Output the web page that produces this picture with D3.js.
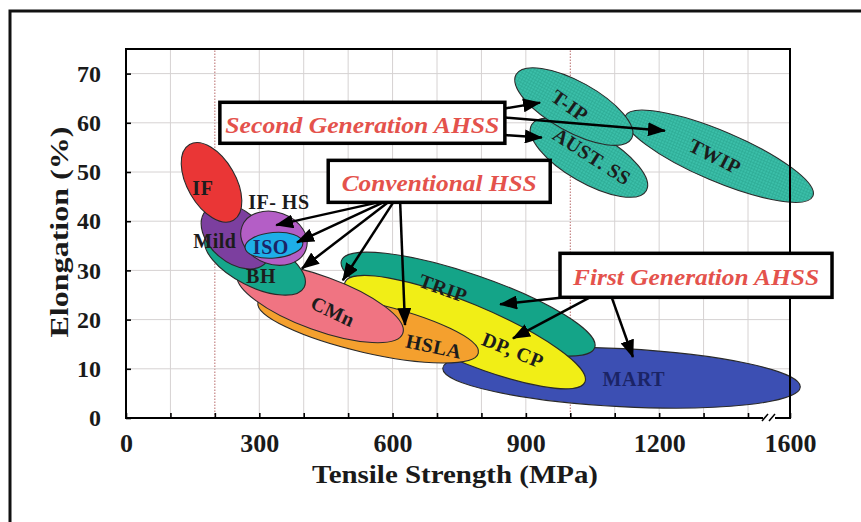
<!DOCTYPE html>
<html>
<head>
<meta charset="utf-8">
<script src="https://cdn.jsdelivr.net/npm/d3@7"></script>
<style>
  body { margin: 0; background: #fff; }
  svg { display: block; }
  text { font-family: "Liberation Serif", "Times New Roman", serif; }
</style>
</head>
<body>
<div id="chart"></div>
<script>
// steel classes, listed back to front
var steels     = ["MART", "TRIP", "DP, CP", "HSLA", "CMn", "BH", "Mild", "IF- HS", "IF", "ISO", "TWIP", "AUST. SS", "T-IP"];
// long axis of each region: [tensile MPa, elongation %] at both ends
var axisStart  = [[713, 10.1], [485, 32.0], [493, 27.6], [297, 23.5], [251, 29.4], [180, 36.7], [179, 42.1], [261, 38.9], [143, 55.6], [268, 34.6], [1123, 61.3], [913, 59.6], [878, 69.8]];
var axisEnd    = [[1649, 6.3], [1055, 14.3], [1033, 7.3], [793, 13.2], [623, 17.2], [401, 26.6], [316, 31.7], [405, 34.2], [242, 40.2], [398, 35.6], [1709, 45.1], [1171, 46.2], [1138, 56.8]];
// half spread across the long axis, in % elongation
var halfSpread = [5.9, 6.1, 5.9, 5.1, 5.5, 4.9, 5.3, 5.3, 4.9, 2.6, 5.1, 5.1, 5.1];
var labelAt    = [[1143, 7.9], [714, 26.4], [871, 13.8], [693, 14.6], [466, 21.7], [304, 28.8], [200, 35.9], [344, 44.0], [173, 46.7], [326, 34.7], [1326, 53.2], [1049, 53.2], [999, 63.5]];

// callouts
var groups       = ["Second Generation AHSS", "Conventional HSS", "First Generation AHSS"];
var groupAt      = [[532, 60.0], [705, 48.1], [1283, 29.0]];
var groupTargets = [
  [[932, 64.1], [1213, 58.4], [936, 57.0]],
  [[338, 39.2], [385, 35.7], [396, 30.4], [488, 28.0], [628, 18.9]],
  [[842, 23.1], [871, 16.2], [1141, 12.4]]
];

// axes
var yTicks      = [0, 10, 20, 30, 40, 50, 60, 70];
var xTickLabels = [0, 300, 600, 900, 1200, 1600];
var xGrid       = d3.range(0, 1500, 100);
var dottedGrid  = [200, 1000];

// ---- styles / layout ----
var colors = {
  "MART": "#3c4fb3", "TRIP": "#14a488", "DP, CP": "#f1ee16", "HSLA": "#f4a02e",
  "CMn": "#f07482", "BH": "#16a68b", "Mild": "#7c3f9f", "IF- HS": "#b45ec6",
  "IF": "#ea3636", "ISO": "#1eaee8", "TWIP": "url(#hatch)", "AUST. SS": "url(#hatch)", "T-IP": "url(#hatch)"
};
var labelRotate = { "MART": 0, "TRIP": 20, "DP, CP": 22, "HSLA": 12, "CMn": 25, "TWIP": 27, "AUST. SS": 33, "T-IP": 35 };
var labelInk = { "MART": "#1b2466", "ISO": "#1b2466" };
var boxSize  = [[285, 41], [222, 42], [272, 44]];
var boxText  = [274, 195, 246];
var arrowFrom = [
  [[1, 0.15], [1, 0.37], [1, 0.8]],
  [[0.225, 1], [0.248, 1], [0.27, 1], [0.293, 1], [0.324, 1]],
  [[0.018, 1], [0.11, 1], [0.19, 1]]
];

var width = 861, height = 522;

var svg = d3.select("#chart").append("svg")
  .attr("width", width)
  .attr("height", height);

var defs = svg.append("defs");
var pat = defs.append("pattern")
  .attr("id", "hatch").attr("patternUnits", "userSpaceOnUse")
  .attr("width", 3).attr("height", 3);
pat.append("rect").attr("width", 3).attr("height", 3).attr("fill", "#3bbfa9");
pat.append("path").attr("d", "M0,1.5H3M1.5,0V3")
  .attr("stroke", "#25a08b").attr("stroke-width", 0.7).attr("opacity", 0.7);

defs.append("marker")
  .attr("id", "head").attr("markerUnits", "userSpaceOnUse")
  .attr("viewBox", "0 0 18 14").attr("markerWidth", 18).attr("markerHeight", 14)
  .attr("refX", 17).attr("refY", 7).attr("orient", "auto")
  .append("path").attr("d", "M0,0L18,7L0,14z").attr("fill", "#000");

// outer frame
svg.append("rect")
  .attr("x", 10).attr("y", 11).attr("width", 900).attr("height", 600)
  .attr("fill", "none").attr("stroke", "#111").attr("stroke-width", 3);

var x = d3.scaleLinear().domain([0, 1400, 1600]).range([126, 748, 790]);
var y = d3.scaleLinear().domain([0, 75]).range([418, 49]);

// grid
var grid = svg.append("g");
grid.selectAll(".vg")
  .data(xGrid.slice(1))
  .enter().append("line")
  .attr("x1", function(d){ return x(d); }).attr("x2", function(d){ return x(d); })
  .attr("y1", y(0)).attr("y2", y(75))
  .attr("stroke", function(d){ return dottedGrid.indexOf(d) >= 0 ? "#b86a6a" : "#d6d2d2"; })
  .attr("stroke-dasharray", function(d){ return dottedGrid.indexOf(d) >= 0 ? "1.5,1.5" : null; })
  .attr("stroke-width", 1);
grid.selectAll(".hg")
  .data(yTicks.slice(1))
  .enter().append("line")
  .attr("x1", x(0)).attr("x2", x(1600))
  .attr("y1", function(d){ return y(d); }).attr("y2", function(d){ return y(d); })
  .attr("stroke", "#d6d2d2").attr("stroke-width", 1);

// regions
function ellipseOf(i){
  var x1 = x(axisStart[i][0]), y1 = y(axisStart[i][1]);
  var x2 = x(axisEnd[i][0]), y2 = y(axisEnd[i][1]);
  var dx = x2 - x1, dy = y2 - y1;
  return {
    cx: (x1 + x2) / 2, cy: (y1 + y2) / 2,
    rx: Math.sqrt(dx * dx + dy * dy) / 2,
    ry: y(0) - y(halfSpread[i]),
    angle: Math.atan2(dy, dx) * 180 / Math.PI
  };
}

var regions = steels.map(function(name, i){
  var e = ellipseOf(i);
  e.name = name;
  return e;
});

svg.append("g").selectAll("ellipse")
  .data(regions)
  .enter().append("ellipse")
  .attr("transform", function(d){ return "translate(" + d.cx + "," + d.cy + ") rotate(" + d.angle + ")"; })
  .attr("rx", function(d){ return d.rx; })
  .attr("ry", function(d){ return d.ry; })
  .attr("fill", function(d){ return colors[d.name]; })
  .attr("stroke", "#2a2a2a")
  .attr("stroke-width", 1.1);

// plot border and axes
svg.append("rect")
  .attr("x", x(0)).attr("y", y(75))
  .attr("width", x(1600) - x(0)).attr("height", y(0) - y(75))
  .attr("fill", "none").attr("stroke", "#000").attr("stroke-width", 2);

var xAxis = svg.append("g")
  .attr("transform", "translate(0," + y(0) + ")")
  .call(d3.axisBottom(x)
    .tickValues(xGrid.concat([1600]))
    .tickSize(-5).tickPadding(16)
    .tickFormat(function(d){ return xTickLabels.indexOf(d) >= 0 ? d : ""; }));

var yAxis = svg.append("g")
  .attr("transform", "translate(" + x(0) + ",0)")
  .call(d3.axisLeft(y).tickValues(yTicks).tickSize(-5).tickPadding(25));

[xAxis, yAxis].forEach(function(a){
  a.select(".domain").remove();
  a.selectAll(".tick line").attr("stroke", "#000").attr("stroke-width", 1.6);
  a.selectAll(".tick text")
    .attr("font-family", "Liberation Serif, serif")
    .attr("font-size", 24).attr("font-weight", "bold").attr("fill", "#1a1a1a");
});
xAxis.selectAll(".tick text").attr("font-size", 26);

// axis break marks
var bx = x(1500);
svg.append("rect").attr("x", bx - 6).attr("y", y(0) - 3).attr("width", 12).attr("height", 6).attr("fill", "#fff");
[-4, 3].forEach(function(o){
  svg.append("line")
    .attr("x1", bx + o - 3).attr("y1", y(0) + 3)
    .attr("x2", bx + o + 3).attr("y2", y(0) - 4)
    .attr("stroke", "#000").attr("stroke-width", 1.5);
});

// axis titles
svg.append("text")
  .attr("x", 455).attr("y", 483)
  .attr("text-anchor", "middle")
  .attr("font-size", 26).attr("font-weight", "bold").attr("fill", "#1a1a1a")
  .attr("textLength", 286).attr("lengthAdjust", "spacingAndGlyphs")
  .text("Tensile Strength (MPa)");

svg.append("text")
  .attr("transform", "translate(68,232) rotate(-90)")
  .attr("text-anchor", "middle")
  .attr("font-size", 26).attr("font-weight", "bold").attr("fill", "#1a1a1a")
  .attr("textLength", 211).attr("lengthAdjust", "spacingAndGlyphs")
  .text("Elongation (%)");

// region labels
svg.append("g").selectAll("text")
  .data(steels)
  .enter().append("text")
  .attr("transform", function(d, i){
    return "translate(" + x(labelAt[i][0]) + "," + y(labelAt[i][1]) + ") rotate(" + (labelRotate[d] || 0) + ")";
  })
  .attr("text-anchor", "middle")
  .attr("dy", "0.35em")
  .attr("font-size", 20).attr("font-weight", "bold")
  .attr("letter-spacing", 0.5)
  .attr("fill", function(d){ return labelInk[d] || "#1c1c1c"; })
  .text(function(d){ return d; });

// callout boxes and arrows
var boxes = groups.map(function(name, i){
  var w = boxSize[i][0], h = boxSize[i][1];
  return { name: name, cx: x(groupAt[i][0]), cy: y(groupAt[i][1]), w: w, h: h, i: i };
});

var arrows = [];
boxes.forEach(function(b){
  groupTargets[b.i].forEach(function(t, j){
    var f = arrowFrom[b.i][j];
    arrows.push({
      x1: b.cx - b.w / 2 + f[0] * b.w, y1: b.cy - b.h / 2 + f[1] * b.h,
      x2: x(t[0]), y2: y(t[1])
    });
  });
});

svg.append("g").selectAll("line")
  .data(arrows)
  .enter().append("line")
  .attr("x1", function(d){ return d.x1; }).attr("y1", function(d){ return d.y1; })
  .attr("x2", function(d){ return d.x2; }).attr("y2", function(d){ return d.y2; })
  .attr("stroke", "#000").attr("stroke-width", 2.5)
  .attr("marker-end", "url(#head)");

var box = svg.append("g").selectAll("g")
  .data(boxes)
  .enter().append("g");

box.append("rect")
  .attr("x", function(d){ return d.cx - d.w / 2; })
  .attr("y", function(d){ return d.cy - d.h / 2; })
  .attr("width", function(d){ return d.w; })
  .attr("height", function(d){ return d.h; })
  .attr("fill", "#fff").attr("stroke", "#000").attr("stroke-width", 3.5);

box.append("text")
  .attr("x", function(d){ return d.cx; })
  .attr("y", function(d){ return d.cy + 10; })
  .attr("text-anchor", "middle")
  .attr("font-size", 23).attr("font-weight", "bold").attr("font-style", "italic")
  .attr("fill", "#e4524c")
  .attr("textLength", function(d){ return boxText[d.i]; })
  .attr("lengthAdjust", "spacingAndGlyphs")
  .text(function(d){ return d.name; });
</script>
</body>
</html>
